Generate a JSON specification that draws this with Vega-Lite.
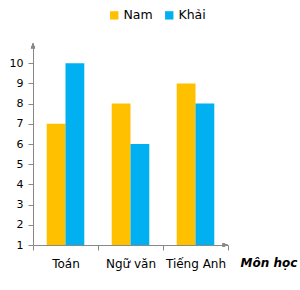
{
  "$schema": "https://vega.github.io/schema/vega-lite/v6.json",
  "width": 195,
  "height": 202,
  "autosize": {"type": "none"},
  "padding": {"left": 33, "top": 43, "right": 72, "bottom": 45},
  "background": "white",
  "config": {
    "view": {"stroke": null},
    "font": "DejaVu Sans",
    "axisY": {
      "title": null, "grid": false, "labelOverlap": false,
      "labelFontSize": 11, "labelColor": "#000", "labelPadding": 5,
      "tickSize": 5, "tickColor": "#888", "domainColor": "#888"
    }
  },
  "data": {
    "values": [
      {"mon": "Toán", "hs": "Nam", "diem": 7},
      {"mon": "Toán", "hs": "Khải", "diem": 10},
      {"mon": "Ngữ văn", "hs": "Nam", "diem": 8},
      {"mon": "Ngữ văn", "hs": "Khải", "diem": 6},
      {"mon": "Tiếng Anh", "hs": "Nam", "diem": 9},
      {"mon": "Tiếng Anh", "hs": "Khải", "diem": 8}
    ]
  },
  "layer": [
    {
      "mark": {"type": "bar"},
      "encoding": {
        "x": {
          "field": "mon", "type": "nominal", "sort": null,
          "scale": {"paddingInner": 0, "paddingOuter": 0},
          "axis": {
            "title": "Môn học", "titleFontStyle": "italic", "titleFontWeight": "bold",
            "titleFontSize": 12, "titleX": 207, "titleY": 17, "titleAlign": "left",
            "titleBaseline": "middle", "titleColor": "#000",
            "labelAngle": 0, "labelFontSize": 12, "labelColor": "#000", "labelPadding": 8,
            "labelOverlap": false,
            "tickBand": "extent", "tickSize": 5, "tickColor": "#888", "domainColor": "#888"
          }
        },
        "xOffset": {
          "field": "hs", "type": "nominal", "sort": ["Nam", "Khải"],
          "scale": {"paddingInner": 0, "paddingOuter": 0.73}
        },
        "y": {
          "field": "diem", "type": "quantitative",
          "scale": {"domain": [1, 11], "zero": false, "nice": false},
          "axis": {"title": null, "values": [1, 2, 3, 4, 5, 6, 7, 8, 9, 10]}
        },
        "y2": {"datum": 1},
        "color": {
          "field": "hs", "type": "nominal", "sort": ["Nam", "Khải"],
          "scale": {"domain": ["Nam", "Khải"], "range": ["#FFC000", "#00B0F0"]},
          "legend": {
            "title": null, "orient": "none", "direction": "horizontal",
            "legendX": 75, "legendY": -34, "symbolType": "square", "symbolSize": 70,
            "symbolStrokeWidth": 0, "labelFontSize": 12.5, "labelColor": "#000",
            "labelOffset": 3, "columnPadding": 10
          }
        }
      }
    },
    {
      "mark": {"type": "point", "shape": "M-0.4,1L0,0L0.4,1Z", "filled": true, "color": "#888", "size": 110, "opacity": 1},
      "encoding": {
        "x": {"datum": "Toán", "bandPosition": 0},
        "y": {"datum": 11, "type": "quantitative", "axis": {"title": null, "values": [1, 2, 3, 4, 5, 6, 7, 8, 9, 10]}}
      }
    },
    {
      "mark": {"type": "point", "shape": "M-1,-0.4L0,0L-1,0.4Z", "filled": true, "color": "#888", "size": 110, "opacity": 1},
      "encoding": {
        "x": {"datum": "Tiếng Anh", "bandPosition": 1},
        "y": {"datum": 1, "type": "quantitative", "axis": {"title": null, "values": [1, 2, 3, 4, 5, 6, 7, 8, 9, 10]}}
      }
    }
  ]
}
